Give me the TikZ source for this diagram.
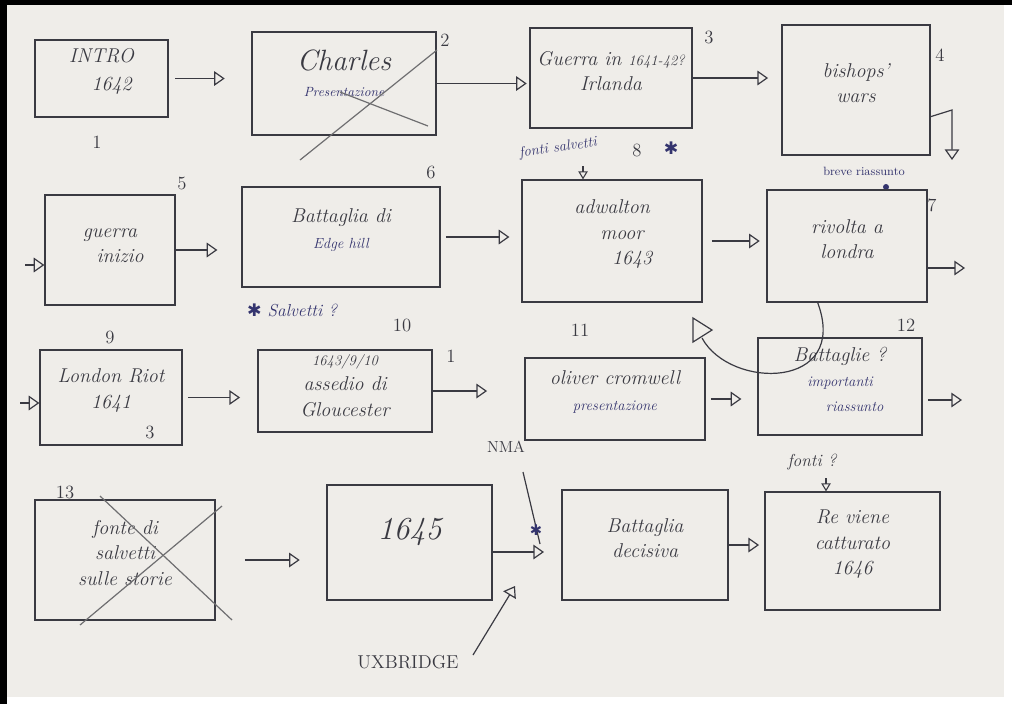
\documentclass[tikz,border=0pt]{standalone}
\usepackage{fontspec}
\usetikzlibrary{arrows.meta,fit}
\newfontfamily\symf{DejaVu Sans}
\definecolor{paper}{HTML}{EFEDE9}
\definecolor{ink}{HTML}{3A3A42}
\definecolor{blueink}{HTML}{34346E}
\definecolor{crossgray}{HTML}{6E6E70}
\tikzset{
  box/.style={draw=ink, line width=0.9pt, inner sep=0pt, align=center, text=ink,
    font=\itshape\fontsize{15}{19}\selectfont},
  conn/.style={draw=ink, line width=0.9pt, -{Triangle[open,length=8pt,width=11pt]}},
  smallconn/.style={draw=ink, line width=0.8pt, -{Triangle[open,length=6pt,width=7pt]}},
  inkline/.style={draw=ink, line width=0.9pt},
  crossline/.style={draw=crossgray, line width=0.9pt},
  num/.style={text=ink, font=\fontsize{14}{16}\selectfont},
  note/.style={text=blueink, font=\itshape\fontsize{11}{13}\selectfont},
}
\begin{document}
\begin{tikzpicture}[x=0.75pt,y=-0.75pt]
\useasboundingbox (0,0) rectangle (1012,704);
\fill[white] (0,0) rectangle (1012,704);
\fill[paper] (7,5) rectangle (1004,697);
\fill[black] (0,0) rectangle (7,704);
\fill[black] (0,0) rectangle (1012,5);

% ---------- row 1
\node[box, fit={(35,40) (168,117)}] (b1) {INTRO\\[2pt]\quad 1642};
\node[num] (n1) at (97,142) {1};
\node[box, fit={(252,32) (436,135)}] (b2) {{\fontsize{22}{24}\selectfont Charles}\\{\color{blueink}\fontsize{10}{12}\selectfont Presentazione}};
\node[num] (n2) at (445,40) {2};
\draw[crossline] (300,160) -- (437,50);
\draw[crossline] (340,92) -- (428,126);
\node[box, fit={(530,28) (692,128)}] (b3) {Guerra in {\fontsize{11}{13}\selectfont 1641-42?}\\Irlanda};
\node[num] (n3) at (709,37) {3};
\node[box, fit={(782,25) (930,155)}] (b4) {bishops'\\wars};
\node[num] (n4) at (940,55) {4};
\coordinate (c4a) at (952,110);
\coordinate (c4b) at (952,160);

\draw[conn, shorten <=5pt, shorten >=20pt] (b1.east) -- (b1.east -| b2.west);
\draw[conn, shorten >=2pt] (b2.east) -- (b2.east -| b3.west);
\draw[conn, shorten >=10pt] (b3.east) -- (b3.east -| b4.west);
\draw[conn] ([yshift=-20pt]b4.east) -- (c4a) -- (c4b);

% notes between rows 1 and 2
\node[note, rotate=8] (fs) at (558,148) {fonti salvetti};
\node[num] (n8) at (637,150) {8};
\node[text=blueink, font=\symf\fontsize{13}{14}\selectfont] (st8) at (671,148) {✱};
\node[text=blueink, font=\fontsize{9}{11}\selectfont] (br) at (864,171) {breve riassunto};
\fill[blueink] (886,187) circle (3);

% ---------- row 2
\node[box, fit={(45,195) (175,305)}] (b5) {guerra\\\quad inizio};
\node[num] (n5) at (182,183) {5};
\coordinate (c5in) at (25,265);
\draw[conn] (c5in) -- (c5in -| b5.west);
\node[box, fit={(242,187) (440,287)}] (b6) {Battaglia di\\{\color{blueink}\fontsize{11}{13}\selectfont Edge hill}};
\node[num] (n6) at (431,172) {6};
\node[note, font=\itshape\fontsize{13}{15}\selectfont] (sal) at (292,310) {{\symf ✱} Salvetti ?};
\node[box, fit={(522,180) (702,302)}] (b8) {adwalton\\\quad moor\\\qquad 1643};
\node[box, fit={(767,190) (927,302)}] (b7) {rivolta a\\londra};
\node[num] (n7) at (932,205) {7};
\coordinate (c7out) at (965,268);
\coordinate (cfs) at (583,166);

\draw[smallconn] (cfs) -- (cfs |- b8.north);
\draw[conn, shorten >=18pt] (b5.east) -- (b5.east -| b6.west);
\draw[conn, shorten <=4pt, shorten >=9pt] (b6.east) -- (b6.east -| b8.west);
\draw[conn, shorten <=7pt, shorten >=5pt] (b8.east) -- (b8.east -| b7.west);
\draw[conn] (c7out -| b7.east) -- (c7out);

% ---------- row 3
\node[box, fit={(40,350) (182,445)}] (b9) {London Riot\\1641};
\node[num] (n9x) at (150,432) {3};
\node[num] (n9) at (110,337) {9};
\coordinate (c9in) at (20,403);
\draw[conn] (c9in) -- (c9in -| b9.west);
\node[box, fit={(258,350) (432,432)}] (b10) {{\fontsize{11}{13}\selectfont 1643/9/10}\\assedio di\\Gloucester};
\node[num] (n10) at (402,325) {10};
\node[num] (n10x) at (451,356) {1};
\node[box, fit={(525,358) (705,440)}] (b11) {oliver cromwell\\{\color{blueink}\fontsize{11}{13}\selectfont presentazione}};
\node[num] (n11) at (580,330) {11};
\node[box, fit={(758,338) (922,435)}] (b12) {Battaglie ?\\{\color{blueink}\fontsize{11}{13}\selectfont importanti}\\{\color{blueink}\fontsize{11}{13}\selectfont\qquad riassunto}};
\node[num] (n12) at (906,325) {12};
\coordinate (c12out) at (962,400);

\draw[conn, shorten <=4pt, shorten >=13pt] (b9.east) -- (b9.east -| b10.west);
\draw[conn, shorten >=28pt] (b10.east) -- (b10.east -| b11.west);
\draw[conn, shorten <=4pt, shorten >=12pt] (b11.east) -- (b11.east -| b12.west);
\draw[conn, shorten <=4pt] (c12out -| b12.east) -- (c12out);

% loop from box 7 to box 11
\coordinate (carc) at (702,338);
\draw[inkline] ([xshift=-22pt]b7.south) .. controls (850,390) and (730,390) .. (carc);
\draw[inkline] (693,318) -- (712,330) -- (693,342) -- cycle;

% ---------- row 4
\node[box, fit={(35,500) (215,620)}] (b13) {fonte di\\salvetti\\sulle storie};
\node[num] (n13) at (65,492) {13};
\draw[crossline] (100,496) -- (232,620);
\draw[crossline] (80,625) -- (222,506);
\node[box, fit={(327,485) (492,600)}, font=\itshape\fontsize{24}{26}\selectfont] (b1645) {1645};
\node[box, fit={(562,490) (728,600)}] (bd) {Battaglia\\decisiva\quad};
\node[box, fit={(765,492) (940,610)}] (bre) {Re viene\\catturato\\1646};

\coordinate (ctip) at (544,552);
\draw[conn, shorten <=22pt, shorten >=20pt] (b13.east) -- (b13.east -| b1645.west);
\draw[conn] (ctip -| b1645.east) -- (ctip);
\draw[conn, shorten >=4pt] (bd.east) -- (bd.east -| bre.west);

\node[num, font=\fontsize{12}{14}\selectfont] (nma) at (506,447) {NMA};
\coordinate (cnma) at (523,472);
\draw[inkline] (cnma) -- ([xshift=-3pt,yshift=6pt]ctip);
\node[text=blueink, font=\symf\fontsize{11}{12}\selectfont] (stn) at (536,530) {✱};

\node[num, font=\fontsize{14}{16}\selectfont] (ux) at (408,662) {UXBRIDGE};
\coordinate (cux) at (473,655);
\coordinate (cuxtip) at (515,586);
\draw[conn] (cux) -- (cuxtip);

\node[note, text=ink, font=\itshape\fontsize{13}{15}\selectfont] (fonti) at (812,462) {fonti ?};
\coordinate (cft) at (826,478);
\draw[smallconn] (cft) -- (cft |- bre.north);
\end{tikzpicture}
\end{document}
